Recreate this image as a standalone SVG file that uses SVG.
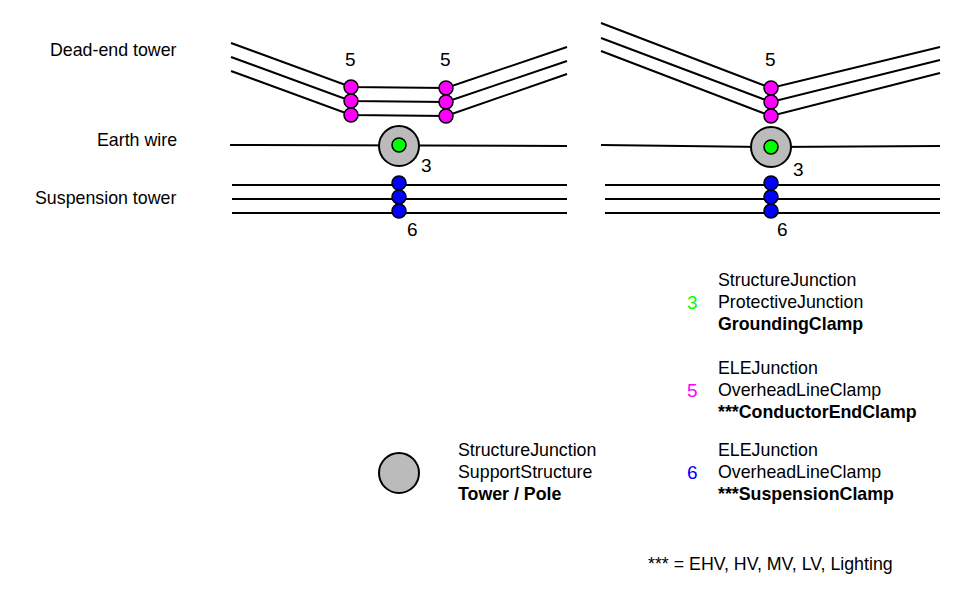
<svg xmlns="http://www.w3.org/2000/svg" width="962" height="600" viewBox="0 0 962 600">
<style>
text{font-family:"Liberation Sans",Arial,sans-serif;font-size:17.8px;fill:#000}
.n{font-size:19px}
.l{fill:none;stroke:#000;stroke-width:2}
.m{fill:#ff00ff;stroke:#000;stroke-width:1.5}
.b{fill:#0000ff;stroke:#000;stroke-width:1.5}
.g{fill:#00ff00;stroke:#000;stroke-width:1.5}
.t{fill:#bbbbbb;stroke:#000;stroke-width:2}
.bd{font-weight:bold}
</style>
<rect width="962" height="600" fill="#fff"/>
<g id="connectors">
<path class="l" d="M231 43L351 87L446 88L567 47M231 57L351 101L446 102L567 61M231 71L351 115L446 116L567 74"/>
<path class="l" d="M230 145L567 146"/>
<path class="l" d="M232 185L567 185M232 199L567 199M232 213L567 213"/>
<path class="l" d="M601 23L771 88L940 47M601 38L771 102L940 60M601 51L771 116L940 73"/>
<path class="l" d="M601 145L771 147L940 146"/>
<path class="l" d="M605 185L940 185M605 199L940 199M605 213L940 213"/>
</g>
<g id="labels">
<text x="50" y="56">Dead-end tower</text>
<text x="97" y="146">Earth wire</text>
<text x="35" y="204">Suspension tower</text>
</g>
<g id="tower-left"><circle class="t" cx="399" cy="146" r="20"/></g>
<g id="tower-right"><circle class="t" cx="771" cy="147" r="20"/></g>
<g id="clamps-left">
<circle class="m" cx="351" cy="87" r="7"/><circle class="m" cx="351" cy="101" r="7"/><circle class="m" cx="351" cy="115" r="7"/>
<circle class="m" cx="446" cy="88" r="7"/><circle class="m" cx="446" cy="102" r="7"/><circle class="m" cx="446" cy="116" r="7"/>
<circle class="g" cx="399" cy="145" r="7"/>
<circle class="b" cx="399" cy="183" r="7"/><circle class="b" cx="399" cy="197" r="7"/><circle class="b" cx="399" cy="211" r="7"/>
<text class="n" x="345" y="66">5</text><text class="n" x="440" y="66">5</text>
<text class="n" x="421" y="172">3</text><text class="n" x="407" y="236">6</text>
</g>
<g id="clamps-right">
<circle class="m" cx="771" cy="88" r="7"/><circle class="m" cx="771" cy="102" r="7"/><circle class="m" cx="771" cy="116" r="7"/>
<circle class="g" cx="771" cy="147" r="7"/>
<circle class="b" cx="771" cy="183" r="7"/><circle class="b" cx="771" cy="197" r="7"/><circle class="b" cx="771" cy="211" r="7"/>
<text class="n" x="765" y="66">5</text><text class="n" x="793" y="176">3</text><text class="n" x="777" y="236">6</text>
</g>
<g id="legend-3">
<text class="n" x="687" y="309" style="fill:#00ff00">3</text>
<text x="718" y="286">StructureJunction</text><text x="718" y="308">ProtectiveJunction</text><text class="bd" x="718" y="330">GroundingClamp</text>
</g>
<g id="legend-5">
<text class="n" x="687" y="397" style="fill:#ff00ff">5</text>
<text x="718" y="374">ELEJunction</text><text x="718" y="396">OverheadLineClamp</text><text class="bd" x="718" y="418">***ConductorEndClamp</text>
</g>
<g id="legend-6">
<text class="n" x="687" y="479" style="fill:#0000ff">6</text>
<text x="718" y="456">ELEJunction</text><text x="718" y="478">OverheadLineClamp</text><text class="bd" x="718" y="500">***SuspensionClamp</text>
</g>
<g id="legend-tower">
<circle class="t" cx="399" cy="473" r="20"/>
<text x="458" y="456">StructureJunction</text><text x="458" y="478">SupportStructure</text><text class="bd" x="458" y="500">Tower / Pole</text>
</g>
<text x="648" y="570">*** = EHV, HV, MV, LV, Lighting</text>
</svg>
